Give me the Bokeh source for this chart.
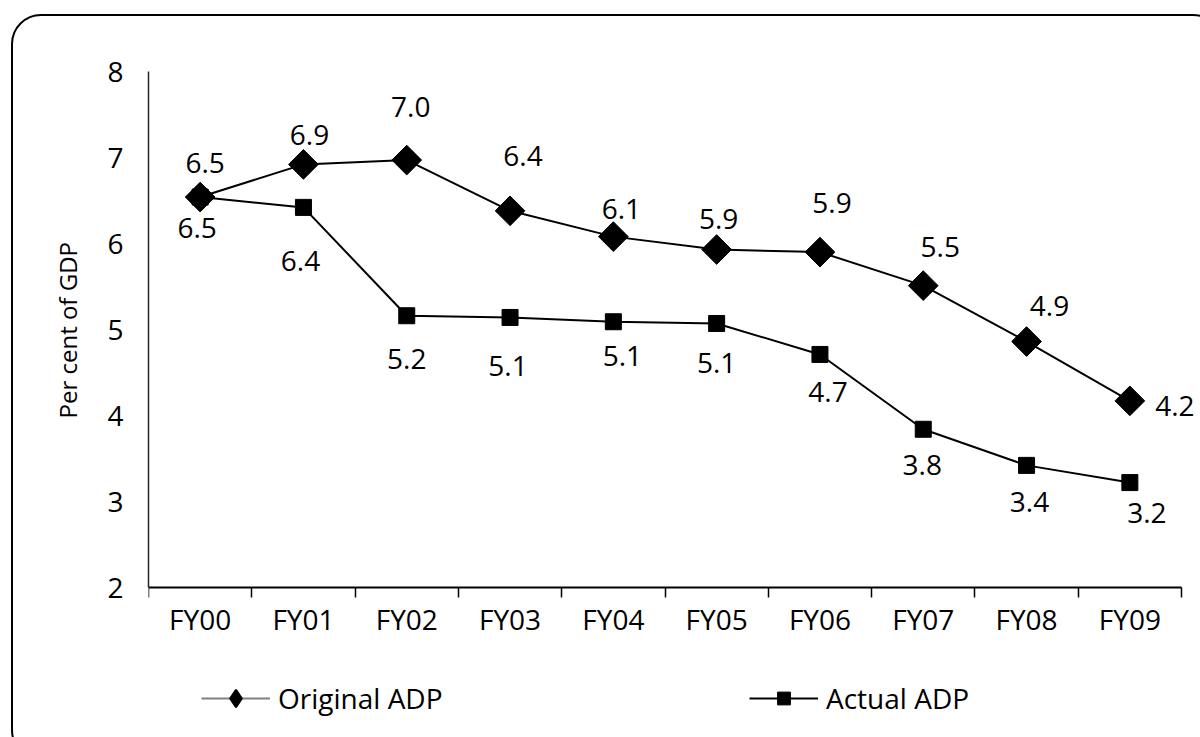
import numpy as np
from bokeh.plotting import figure
from bokeh.models import (ColumnDataSource, FixedTicker, Legend, LegendItem, Title,
                          LinearAxis, CustomJSTickFormatter, InlineStyleSheet)
from bokeh.core.properties import value
from bokeh.embed import file_html
from bokeh.resources import INLINE

# ---- data -------------------------------------------------------------
years = ["FY00", "FY01", "FY02", "FY03", "FY04",
         "FY05", "FY06", "FY07", "FY08", "FY09"]
original_adp = [6.54, 6.92, 6.97, 6.38, 6.08, 5.93, 5.90, 5.51, 4.86, 4.17]
actual_adp = [6.54, 6.42, 5.16, 5.14, 5.09, 5.07, 4.71, 3.84, 3.42, 3.22]
y_ticks = [2, 3, 4, 5, 6, 7, 8]

# ---- label placement (pixel nudges, screen y pointing down) -----------
orig_dx = [5, 6, 4, 13, 8, 2, 12, 17, 23, 45]
orig_dy = [-34, -29, -53, -55, -28, -31, -49, -39, -36, 5]
act_dx = [-3, -3, 0, -2, 9, 0, 8, -1, 3, 17]
act_dy = [31, 54, 43, 49, 34, 40, 38, 36, 37, 30]

FONT = "Open Sans"
n = len(years)
slot = np.arange(n) + 0.5  # centre of each year's slot

# The frame fills the canvas to the right and bottom edges so that labels
# and the legend below the x axis are not clipped; the axes are pinned to
# the value range with bounds / fixed_location.
W, H = 1200, 737
LEFT, TOP = 148, 71
AXIS_W = 1033          # pixels covered by the ten year slots
AXIS_H = 516           # pixels covered by the 2..8 value range
x_end = n * (W - LEFT) / AXIS_W
y_span = y_ticks[-1] - y_ticks[0]
y_start = y_ticks[-1] - y_span * (H - TOP) / AXIS_H

src = ColumnDataSource(dict(
    x=slot,
    orig=original_adp,
    act=actual_adp,
    orig_lbl=[f"{v:.1f}" for v in original_adp],
    act_lbl=[f"{v:.1f}" for v in actual_adp],
    odx=orig_dx, ody=orig_dy, adx=act_dx, ady=act_dy,
))

p = figure(width=W, height=H, x_range=(0, x_end), y_range=(y_start, y_ticks[-1]),
           x_axis_type=None, y_axis_type=None,
           output_backend="svg", toolbar_location=None,
           min_border_left=LEFT, min_border_right=0,
           min_border_top=TOP, min_border_bottom=0)
p.outline_line_color = None
p.background_fill_color = "white"
p.border_fill_color = "white"

# x axis: labels in the middle of each slot, tick marks on slot boundaries
xaxis = LinearAxis(
    ticker=FixedTicker(ticks=list(slot), minor_ticks=list(range(0, n + 1))),
    formatter=CustomJSTickFormatter(
        args=dict(labels=years),
        code="const i = Math.floor(tick); return (i >= 0 && i < labels.length) ? labels[i] : '';"),
    bounds=(0, n),
    fixed_location=y_ticks[0],
)
xaxis.axis_line_color = "black"
xaxis.axis_line_width = 2
xaxis.major_tick_line_color = None
xaxis.major_tick_out = 0
xaxis.major_tick_in = 0
xaxis.minor_tick_line_color = "black"
xaxis.minor_tick_line_width = 1.5
xaxis.minor_tick_out = 10
xaxis.minor_tick_in = 0
xaxis.major_label_standoff = 2
xaxis.major_label_text_font = FONT
xaxis.major_label_text_font_size = "28px"
xaxis.major_label_text_color = "black"
p.add_layout(xaxis, "below")

yaxis = LinearAxis(ticker=FixedTicker(ticks=y_ticks, minor_ticks=[]),
                   bounds=(y_ticks[0], y_ticks[-1]))
yaxis.axis_line_color = "#262626"
yaxis.axis_line_width = 1.5
yaxis.major_tick_line_color = None
yaxis.minor_tick_line_color = None
yaxis.major_tick_out = 0
yaxis.major_tick_in = 0
yaxis.major_label_standoff = 25
yaxis.major_label_text_font = FONT
yaxis.major_label_text_font_size = "28px"
yaxis.major_label_text_color = "black"
p.add_layout(yaxis, "left")

# y axis title, centred on the 2..8 span rather than the whole frame
p.add_layout(Title(text="Per cent of GDP", align="left", offset=319, standoff=42,
                   text_font=FONT, text_font_size="24px", text_font_style="normal",
                   text_color="black"), "left")

# ---- series -----------------------------------------------------------
p.line("x", "orig", source=src, line_color="black", line_width=2)
p.scatter("x", "orig", source=src, marker="square", angle=np.pi / 4,
          size=21, fill_color="black", line_color="black")
p.line("x", "act", source=src, line_color="black", line_width=2)
p.scatter("x", "act", source=src, marker="square",
          size=16, fill_color="black", line_color="black")

p.text("x", "orig", text="orig_lbl", source=src, x_offset="odx", y_offset="ody",
       text_align="center", text_baseline="middle",
       text_font=value(FONT), text_font_size=value("28px"), text_color="black")
p.text("x", "act", text="act_lbl", source=src, x_offset="adx", y_offset="ady",
       text_align="center", text_baseline="middle",
       text_font=value(FONT), text_font_size=value("28px"), text_color="black")

# ---- legend below the axis (key glyphs only, nothing drawn in the plot) -
nan = [float("nan")]
lg_line_o = p.line(nan, nan, line_color="#808080", line_width=2)
lg_mark_o = p.scatter(nan, nan, marker="diamond", size=22,
                      fill_color="black", line_color="black", line_width=2)
lg_line_a = p.line(nan, nan, line_color="black", line_width=2)
lg_mark_a = p.scatter(nan, nan, marker="square", size=16,
                      fill_color="black", line_color="black")


def key(label, renderers, loc, glyph_h):
    return Legend(items=[LegendItem(label=label, renderers=renderers)],
                  location=loc, glyph_width=69, glyph_height=glyph_h,
                  label_standoff=8, padding=0, margin=0, spacing=0,
                  border_line_color=None, background_fill_alpha=0,
                  label_text_font=FONT, label_text_font_size="28px",
                  label_text_color="black")


p.add_layout(key("Original ADP", [lg_line_o, lg_mark_o], (53, 17), 44))
p.add_layout(key("Actual ADP", [lg_line_a, lg_mark_a], (601, 20), 32))

# ---- rounded frame around the whole chart -----------------------------
p.stylesheets = [InlineStyleSheet(css="""
:host { position: relative; }
:host::after {
  content: "";
  position: absolute;
  left: 11px; top: 14px;
  width: 1212px; height: 746px;
  border: 2.5px solid black;
  border-radius: 30px;
  pointer-events: none;
  box-sizing: border-box;
}
""")]

open("out.html", "w").write(file_html(p, INLINE))
